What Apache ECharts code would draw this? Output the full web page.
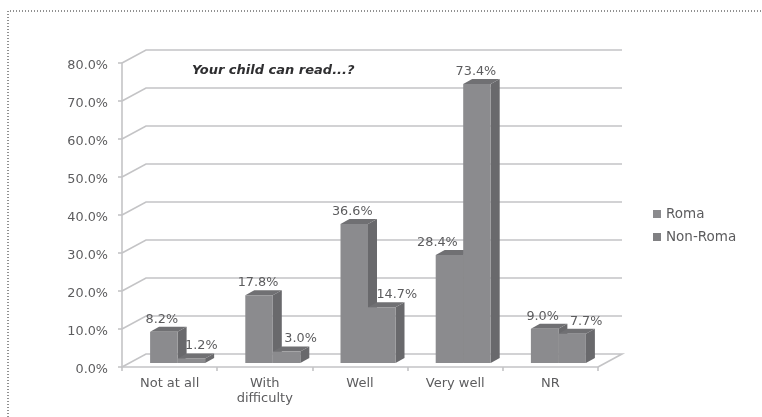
<!DOCTYPE html>
<html><head><meta charset="utf-8">
<script src="https://cdn.jsdelivr.net/npm/echarts@6/dist/echarts.min.js"></script>
<style>html,body{margin:0;padding:0;background:#fff}#c{width:762px;height:417px;filter:blur(0.5px)}</style>
</head><body><div id="c"></div>
<script>
const categories = ['Not at all', 'With\ndifficulty', 'Well', 'Very well', 'NR'];
const roma = [8.2, 17.8, 36.6, 28.4, 9.0];
const nonRoma = [1.2, 3.0, 14.7, 73.4, 7.7];
const yTicks = [0, 10, 20, 30, 40, 50, 60, 70, 80];
const romaLabelShift = [-2, -1, -2, -12, -2];
const nonRomaLabelShift = [10, 14, 15, -1, 14];

const WALL_DX = 24, WALL_DY = -13;
const BAR_DX = 8, BAR_DY = -4, BAR_W = 27.5, SIDE_DX = 9, SIDE_DY = -5;
const FRONT = '#8b8b8e', SIDE = '#69696c', TOP = '#707073', GRID = '#c4c4c6', TEXT = '#5c5c5e';

function barRender(side, shifts) {
  return function (params, api) {
    const i = api.value(0);
    const val = api.value(1);
    const c0 = api.coord([i, 0]);
    const c1 = api.coord([i, val]);
    const x0 = c0[0] + BAR_DX + (side < 0 ? -BAR_W : 0);
    const x1 = x0 + BAR_W;
    const yb = c0[1] + BAR_DY;
    const yt = c1[1] + BAR_DY;
    const poly = (pts, fill) => ({ type: 'polygon', shape: { points: pts }, style: { fill: fill } });
    return {
      type: 'group',
      children: [
        poly([[x1, yb], [x1 + SIDE_DX, yb + SIDE_DY], [x1 + SIDE_DX, yt + SIDE_DY], [x1, yt]], SIDE),
        poly([[x0, yt], [x0 + SIDE_DX, yt + SIDE_DY], [x1 + SIDE_DX, yt + SIDE_DY], [x1, yt]], TOP),
        poly([[x0, yb], [x1, yb], [x1, yt], [x0, yt]], FRONT),
        { type: 'text', z2: 20, style: {
            text: val.toFixed(1) + '%', x: (x0 + x1) / 2 + shifts[i], y: yt - 12.5,
            align: 'center', verticalAlign: 'middle',
            font: '12.8px "DejaVu Sans"', fill: TEXT } }
      ]
    };
  };
}

function wallRender(params, api) {
  const v = api.value(0);
  const band = api.size([1, 0])[0];
  const lc = api.coord([0, v]);
  const rc = api.coord([categories.length - 1, v]);
  const l = [lc[0] - band / 2, lc[1]];
  const r = [rc[0] + band / 2, rc[1]];
  const base = { stroke: GRID, lineWidth: 1.6, fill: 'none' };
  const pts = [[l[0], l[1]], [l[0] + WALL_DX, l[1] + WALL_DY], [r[0] + WALL_DX, r[1] + WALL_DY]];
  if (v === 0) pts.push([r[0], r[1]]);
  return { type: 'polyline', shape: { points: pts }, style: base };
}

const chart = echarts.init(document.getElementById('c'), null, { renderer: 'canvas' });
chart.setOption({
  animation: false,
  backgroundColor: '#fff',
  grid: { left: 122, right: 164, top: 63, bottom: 50 },
  legend: {
    orient: 'vertical', left: 648, top: 202, itemWidth: 8, itemHeight: 8, itemGap: 9,
    icon: 'rect', data: ['Roma', 'Non-Roma'],
    textStyle: { fontFamily: 'DejaVu Sans', fontSize: 13.5, color: TEXT }
  },
  xAxis: {
    type: 'category', data: categories, boundaryGap: true,
    axisLine: { lineStyle: { color: GRID, width: 1.6 } },
    axisTick: { show: true, alignWithLabel: false, length: 4, lineStyle: { color: GRID, width: 1.6 } },
    axisLabel: { color: TEXT, fontFamily: 'DejaVu Sans', fontSize: 13, margin: 9, lineHeight: 15, interval: 0 }
  },
  yAxis: {
    type: 'value', min: 0, max: 80, interval: 10,
    axisLine: { show: true, lineStyle: { color: GRID, width: 1.6 } },
    axisTick: { show: true, length: 4, lineStyle: { color: GRID, width: 1.6 } },
    splitLine: { show: false },
    axisLabel: { color: TEXT, fontFamily: 'DejaVu Sans', fontSize: 12.8, margin: 14, verticalAlign: 'top', lineHeight: 5, formatter: v => v.toFixed(1) + '%' }
  },
  graphic: [
    { type: 'text', left: 192, top: 64, z: 50, style: { text: 'Your child can read...?', font: 'italic bold 13px "DejaVu Sans"', fill: '#2e2e30' } },
    { type: 'polyline', z: 50, shape: { points: [[8, 417], [8, 11], [762, 11]] }, style: { stroke: '#222', lineWidth: 1, lineDash: [1, 2], fill: 'none' } }
  ],
  series: [
    { type: 'custom', name: 'wall', coordinateSystem: 'cartesian2d', data: yTicks.map(v => [v]), renderItem: wallRender, encode: { y: 0 }, clip: false, z: 1, silent: true },
    { type: 'custom', name: 'Roma', data: roma.map((v, i) => [i, v]), renderItem: barRender(-1, romaLabelShift), encode: { x: 0, y: 1 }, clip: false, z: 3, itemStyle: { color: FRONT } },
    { type: 'custom', name: 'Non-Roma', data: nonRoma.map((v, i) => [i, v]), renderItem: barRender(1, nonRomaLabelShift), encode: { x: 0, y: 1 }, clip: false, z: 4, itemStyle: { color: '#808083' } }
  ]
});
</script></body></html>
